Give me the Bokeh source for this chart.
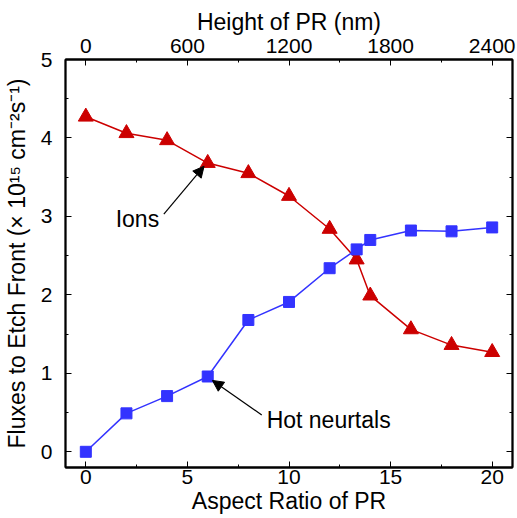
from bokeh.plotting import figure
from bokeh.models import Range1d, LinearAxis, FixedTicker, Arrow, NormalHead, CustomLabelingPolicy
from bokeh.core.properties import value
from bokeh.embed import file_html
from bokeh.resources import INLINE

# Data
aspect_ratio = [0, 2, 4, 6, 8, 10, 12, 13.33, 14, 16, 18, 20]
ions = [4.27, 4.06, 3.97, 3.68, 3.55, 3.26, 2.84, 2.45, 1.99, 1.56, 1.36, 1.27]
hot_neutrals = [0.0, 0.49, 0.71, 0.96, 1.68, 1.91, 2.34, 2.58, 2.70, 2.82, 2.81, 2.86]
bottom_ticks = [0, 5, 10, 15, 20]
top_ticks = [0, 600, 1200, 1800, 2400]
left_ticks = [0, 1, 2, 3, 4, 5]

FONT = "Liberation Sans"
RED = "#cc0000"
BLUE = "#3333ff"

p = figure(width=517, height=518, output_backend="svg", toolbar_location=None,
           x_range=Range1d(-1, 21), y_range=Range1d(-0.2, 5))
p.min_border_left = 65
p.min_border_top = 59
p.min_border_right = 5
p.min_border_bottom = 51
p.grid.visible = False
p.outline_line_color = "black"
p.outline_line_width = 1.8
p.background_fill_color = "white"
p.border_fill_color = "white"

p.extra_x_ranges = {"top": Range1d(-120, 2520)}

def style_axis(ax, show_labels=True):
    ax.axis_line_color = "black"
    ax.axis_line_width = 1.8
    ax.major_tick_in = 6
    ax.major_tick_out = 0
    ax.minor_tick_in = 3
    ax.minor_tick_out = 0
    ax.major_tick_line_color = "black"
    ax.minor_tick_line_color = "black"
    ax.major_label_text_font = FONT
    ax.major_label_text_font_size = "21px" if show_labels else "0px"
    ax.major_label_text_color = "black"
    ax.axis_label_text_font = FONT
    ax.axis_label_text_font_size = "23px"
    ax.axis_label_text_font_style = "normal"
    ax.axis_label_text_color = "black"

# bottom axis
bx = p.xaxis[0]
bx.ticker = FixedTicker(ticks=bottom_ticks, minor_ticks=[2.5 * i for i in range(0, 9)])
bx.axis_label = "Aspect Ratio of PR"
style_axis(bx)
bx.major_label_standoff = 2
bx.axis_label_standoff = 1

# left axis
ly = p.yaxis[0]
ly.ticker = FixedTicker(ticks=left_ticks, minor_ticks=[0.5 * i for i in range(0, 11)])
ly.axis_label = "Fluxes to Etch Front (\u00d7 10\u00b9\u2075 cm\u207b\u00b2s\u207b\u00b9)"
style_axis(ly)
ly.major_label_standoff = 13
ly.axis_label_standoff = 8

# top axis
tx = LinearAxis(x_range_name="top", axis_label="Height of PR (nm)",
                ticker=FixedTicker(ticks=top_ticks, minor_ticks=[300 * i for i in range(0, 9)]))
style_axis(tx)
tx.major_label_standoff = 7
tx.axis_label_standoff = 1
p.add_layout(tx, "above")

# right axis (ticks only, no labels)
ry = LinearAxis(ticker=FixedTicker(ticks=left_ticks, minor_ticks=[0.5 * i for i in range(0, 11)]),
                major_label_policy=CustomLabelingPolicy(code="return []"))
style_axis(ry, show_labels=False)
ry.major_label_standoff = 0
p.add_layout(ry, "right")

# series
p.line(aspect_ratio, ions, line_color=RED, line_width=1.5)
p.scatter(aspect_ratio, ions, marker="triangle", size=15, fill_color=RED, line_color=RED)
p.line(aspect_ratio, hot_neutrals, line_color=BLUE, line_width=1.5)
p.scatter(aspect_ratio, hot_neutrals, marker="square", size=11, fill_color=BLUE, line_color=BLUE)

# annotations
p.add_layout(Arrow(end=NormalHead(size=11, fill_color="black", line_color="black"),
                   x_start=3.84, y_start=3.03, x_end=5.82, y_end=3.64,
                   line_color="black", line_width=1.2))
p.add_layout(Arrow(end=NormalHead(size=11, fill_color="black", line_color="black"),
                   x_start=8.66, y_start=0.47, x_end=6.23, y_end=0.91,
                   line_color="black", line_width=1.2))
p.text(x=[1.47], y=[2.97], text=["Ions"], text_font=value(FONT), text_font_size="23px",
       text_baseline="alphabetic", text_align="left", text_color="black")
p.text(x=[8.9], y=[0.41], text=["Hot neurtals"], text_font=value(FONT), text_font_size="23px",
       text_baseline="alphabetic", text_align="left", text_color="black")

open("out.html", "w").write(file_html(p, INLINE))
